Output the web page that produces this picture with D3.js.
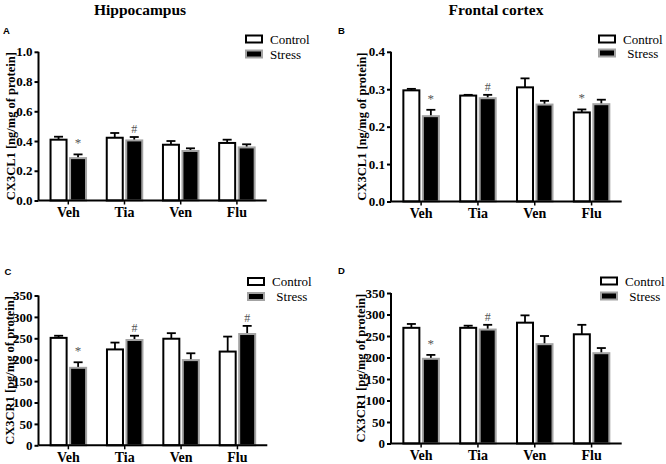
<!DOCTYPE html>
<html>
<head>
<meta charset="utf-8">
<script src="https://cdn.jsdelivr.net/npm/d3@7"></script>
<style>
  html, body { margin: 0; padding: 0; background: #fff; }
  svg { display: block; }
</style>
</head>
<body>
<svg id="chart" width="666" height="464"></svg>
<script>
// ---------------- DATA ----------------
const categories = ["Veh", "Tia", "Ven", "Flu"];
const seriesNames = ["Control", "Stress"];

// Panel A: Hippocampus CX3CL1 [ng/mg of protein]
const hipCX3CL1Control    = [0.409, 0.422, 0.375, 0.387];
const hipCX3CL1ControlErr = [0.020, 0.032, 0.025, 0.022];
const hipCX3CL1Stress     = [0.285, 0.404, 0.333, 0.357];
const hipCX3CL1StressErr  = [0.025, 0.023, 0.018, 0.021];

// Panel B: Frontal cortex CX3CL1 [ng/mg of protein]
const fcCX3CL1Control    = [0.297, 0.283, 0.305, 0.238];
const fcCX3CL1ControlErr = [0.004, 0.002, 0.024, 0.008];
const fcCX3CL1Stress     = [0.228, 0.276, 0.259, 0.260];
const fcCX3CL1StressErr  = [0.017, 0.009, 0.010, 0.012];

// Panel C: Hippocampus CX3CR1 [pg/mg of protein]
const hipCX3CR1Control    = [251, 224, 249, 219];
const hipCX3CR1ControlErr = [5, 16, 13, 35];
const hipCX3CR1Stress     = [181, 246, 199, 260];
const hipCX3CR1StressErr  = [13, 10, 16, 19];

// Panel D: Frontal cortex CX3CR1 [pg/mg of protein]
const fcCX3CR1Control    = [269, 269, 281, 254];
const fcCX3CR1ControlErr = [9, 5, 17, 22];
const fcCX3CR1Stress     = [197, 265, 231, 210];
const fcCX3CR1StressErr  = [9, 11, 19, 12];

// Tick values
const ticksCL1Hip = [0, 0.2, 0.4, 0.6, 0.8, 1.0];
const ticksCL1Fc  = [0, 0.1, 0.2, 0.3, 0.4];
const ticksCR1    = [0, 50, 100, 150, 200, 250, 300, 350];

// Significance marks: [category, series, symbol]
const marksA = [["Veh", "Stress", "*"], ["Tia", "Stress", "#"]];
const marksB = [["Veh", "Stress", "*"], ["Tia", "Stress", "#"], ["Flu", "Control", "*"]];
const marksC = [["Veh", "Stress", "*"], ["Tia", "Stress", "#"], ["Flu", "Stress", "#"]];
const marksD = [["Veh", "Stress", "*"], ["Tia", "Stress", "#"]];

const titles = ["Hippocampus", "Frontal cortex"];
const yLabelCL1 = "CX3CL1 [ng/mg of protein]";
const yLabelCR1 = "CX3CR1 [pg/mg of protein]";

// ---------------- LAYOUT ----------------
const panels = [
  { letter: "A", lx: 3, ly: 33.5, x0: 38.5, x1: 266.7, yZero: 200.5, yTop: 51.8, max: 1.0,
    ticks: ticksCL1Hip, fmt: d3.format(".1f"), ylabel: yLabelCL1, ylabelX: 11,
    ctrl: hipCX3CL1Control, ctrlErr: hipCX3CL1ControlErr, str: hipCX3CL1Stress, strErr: hipCX3CL1StressErr,
    marks: marksA, leg: { x: 245, y: 34.5, gap: 15, tx: 270, align: "start" } },
  { letter: "B", lx: 338, ly: 33.5, x0: 391, x1: 621.7, yZero: 201.5, yTop: 51.8, max: 0.4,
    ticks: ticksCL1Fc, fmt: d3.format(".1f"), ylabel: yLabelCL1, ylabelX: 362,
    ctrl: fcCX3CL1Control, ctrlErr: fcCX3CL1ControlErr, str: fcCX3CL1Stress, strErr: fcCX3CL1StressErr,
    marks: marksB, leg: { x: 598, y: 34.5, gap: 14, tx: 623, align: "middle" } },
  { letter: "C", lx: 4.5, ly: 275, x0: 38.5, x1: 267.3, yZero: 445.3, yTop: 295.5, max: 350,
    ticks: ticksCR1, fmt: d3.format("d"), ylabel: yLabelCR1, ylabelX: 10,
    ctrl: hipCX3CR1Control, ctrlErr: hipCX3CR1ControlErr, str: hipCX3CR1Stress, strErr: hipCX3CR1StressErr,
    marks: marksC, leg: { x: 247, y: 277, gap: 15, tx: 272, align: "middle" } },
  { letter: "D", lx: 338, ly: 274, x0: 391, x1: 621.7, yZero: 443.5, yTop: 293, max: 350,
    ticks: ticksCR1, fmt: d3.format("d"), ylabel: yLabelCR1, ylabelX: 361,
    ctrl: fcCX3CR1Control, ctrlErr: fcCX3CR1ControlErr, str: fcCX3CR1Stress, strErr: fcCX3CR1StressErr,
    marks: marksD, leg: { x: 600, y: 276.5, gap: 15, tx: 625, align: "middle" } }
];

const serif = "'Liberation Serif', 'Times New Roman', serif";
const sans = "'Liberation Sans', Arial, sans-serif";
const stressStroke = "#a3a3a3";

const svg = d3.select("#chart");
svg.append("rect").attr("width", 666).attr("height", 464).attr("fill", "#fff");

// Column titles
svg.append("text").attr("x", 140).attr("y", 15).attr("text-anchor", "middle")
  .attr("font-family", serif).attr("font-weight", "bold").attr("font-size", 15.5).text(titles[0]);
svg.append("text").attr("x", 496).attr("y", 15).attr("text-anchor", "middle")
  .attr("font-family", serif).attr("font-weight", "bold").attr("font-size", 15.5).text(titles[1]);

panels.forEach(p => {
  const g = svg.append("g");

  // letter
  g.append("text").attr("x", p.lx).attr("y", p.ly)
    .attr("font-family", sans).attr("font-weight", "bold").attr("font-size", 9.5).text(p.letter);

  const x = d3.scaleBand().domain(categories).range([p.x0, p.x1]).paddingInner(0).paddingOuter(0.03);
  const y = d3.scaleLinear().domain([0, p.max]).range([p.yZero, p.yTop]);

  const half = 18, gap = 0.75, sw = 2;
  const series = [
    { name: seriesNames[0], vals: p.ctrl, errs: p.ctrlErr, fill: "#fff", stroke: "#000", off: -gap - half },
    { name: seriesNames[1], vals: p.str, errs: p.strErr, fill: "#000", stroke: stressStroke, off: gap }
  ];

  // bars + error bars
  series.forEach(s => {
    const data = categories.map((c, i) => ({ c, v: s.vals[i], e: s.errs[i] }));
    const cx = d => x(d.c) + x.bandwidth() / 2;
    // error bars (upward)
    g.selectAll(null).data(data).enter().append("line")
      .attr("x1", d => cx(d) + s.off + half / 2).attr("x2", d => cx(d) + s.off + half / 2)
      .attr("y1", d => y(d.v)).attr("y2", d => y(d.v + d.e))
      .attr("stroke", "#000").attr("stroke-width", 1.8);
    g.selectAll(null).data(data).enter().append("line")
      .attr("x1", d => cx(d) + s.off + half / 2 - 4.5).attr("x2", d => cx(d) + s.off + half / 2 + 4.5)
      .attr("y1", d => y(d.v + d.e)).attr("y2", d => y(d.v + d.e))
      .attr("stroke", "#000").attr("stroke-width", 1.8);
    g.selectAll(null).data(data).enter().append("rect")
      .attr("x", d => cx(d) + s.off + sw / 2)
      .attr("width", half - sw)
      .attr("y", d => y(d.v))
      .attr("height", d => y(0) - y(d.v))
      .attr("fill", s.fill).attr("stroke", s.stroke).attr("stroke-width", sw);
  });

  // significance marks
  p.marks.forEach(m => {
    const si = seriesNames.indexOf(m[1]);
    const ci = categories.indexOf(m[0]);
    const s = series[si];
    const cx = x(m[0]) + x.bandwidth() / 2 + s.off + half / 2;
    const top = y(s.vals[ci] + s.errs[ci]);
    g.append("text").attr("x", cx).attr("y", m[2] === "*" ? top - 7 : top - 4)
      .attr("text-anchor", "middle").attr("font-family", serif).attr("font-size", m[2] === "*" ? 13 : 12)
      .attr("fill", "#555").text(m[2]);
  });

  // y axis
  const yAxis = g.append("g").attr("transform", `translate(${p.x0},0)`)
    .call(d3.axisLeft(y).tickValues(p.ticks).tickFormat(p.fmt).tickSize(4).tickPadding(2));
  yAxis.select(".domain").attr("stroke", "#000").attr("stroke-width", 2).attr("d", `M0,${p.yTop}V${p.yZero}`);
  yAxis.selectAll(".tick line").attr("stroke", "#000").attr("stroke-width", 2);
  yAxis.selectAll("text").attr("font-family", serif).attr("font-weight", "bold").attr("font-size", 13).attr("fill", "#000");

  // x axis
  const xAxis = g.append("g").attr("transform", `translate(0,${p.yZero})`)
    .call(d3.axisBottom(x).tickSize(4).tickPadding(3));
  xAxis.select(".domain").attr("stroke", "#000").attr("stroke-width", 2).attr("d", `M${p.x0},0H${p.x1}`);
  xAxis.selectAll(".tick line").attr("stroke", "#000").attr("stroke-width", 1.5);
  xAxis.selectAll("text").attr("font-family", serif).attr("font-weight", "bold").attr("font-size", 14).attr("fill", "#000");

  // y label
  const ym = (p.yTop + p.yZero) / 2;
  g.append("text").attr("transform", `translate(${p.ylabelX},${ym}) rotate(-90)`)
    .attr("text-anchor", "middle").attr("dominant-baseline", "central")
    .attr("font-family", serif).attr("font-weight", "bold").attr("font-size", 12.5).text(p.ylabel);

  // legend
  const L = p.leg;
  g.append("rect").attr("x", L.x + 1).attr("y", L.y + 1).attr("width", 16).attr("height", 7)
    .attr("fill", "#fff").attr("stroke", "#000").attr("stroke-width", 2);
  g.append("rect").attr("x", L.x + 1).attr("y", L.y + L.gap + 1).attr("width", 16).attr("height", 7)
    .attr("fill", "#000").attr("stroke", stressStroke).attr("stroke-width", 2);
  const ct = g.append("text").attr("x", L.tx).attr("y", L.y + 9)
    .attr("font-family", serif).attr("font-size", 13).text(seriesNames[0]);
  const cw = ct.node().getComputedTextLength();
  g.append("text")
    .attr("x", L.align === "middle" ? L.tx + cw / 2 : L.tx)
    .attr("y", L.y + L.gap + 9)
    .attr("text-anchor", L.align)
    .attr("font-family", serif).attr("font-size", 13).text(seriesNames[1]);
});
</script>
</body>
</html>
